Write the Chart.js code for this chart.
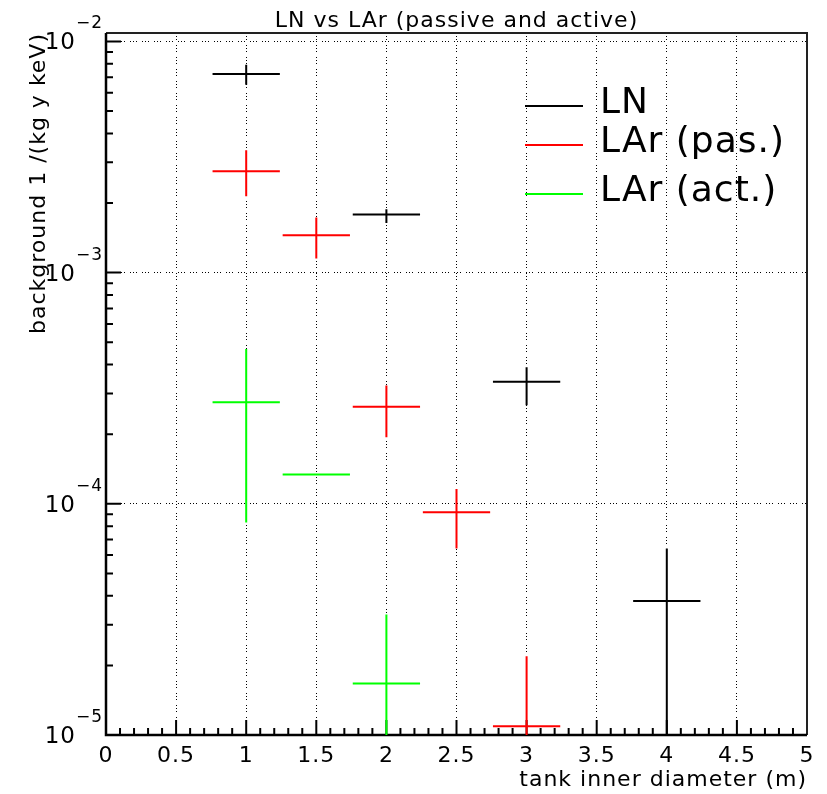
<!DOCTYPE html>
<html>
<head>
<meta charset="utf-8">
<script src="https://cdn.jsdelivr.net/npm/chart.js@4.4.1/dist/chart.umd.min.js"></script>
<style>
    body { margin: 0; background: #fff; }
    canvas { display: block; }
</style>
</head>
<body>
<canvas id="bgChart" width="827" height="794"></canvas>

<script>
// --- datos ---
const titleText = 'LN vs LAr (passive and active)';
const xAxisTitle = 'tank inner diameter (m)';
const yAxisTitle = 'background 1 /(kg y keV)';

const xTickValues = [0, 0.5, 1, 1.5, 2, 2.5, 3, 3.5, 4, 4.5, 5];
const xTickLabels = ['0', '0.5', '1', '1.5', '2', '2.5', '3', '3.5', '4', '4.5', '5'];
const yTickExponents = [-5, -4, -3, -2];

const xHalfWidth = 0.24; // semiancho de la barra en x

// LN
const lnX = [1, 2, 3, 4];
const lnY = [7.22e-3, 1.785e-3, 3.37e-4, 3.8e-5];
const lnLow = [6.5e-3, 1.64e-3, 2.67e-4, 5e-6];
const lnHigh = [7.92e-3, 1.88e-3, 3.9e-4, 6.4e-5];

// LAr pasivo
const pasX = [1, 1.5, 2, 2.5, 3];
const pasY = [2.74e-3, 1.45e-3, 2.63e-4, 9.2e-5, 1.09e-5];
const pasLow = [2.14e-3, 1.15e-3, 1.94e-4, 6.4e-5, 5e-6];
const pasHigh = [3.38e-3, 1.73e-3, 3.25e-4, 1.16e-4, 2.19e-5];

// LAr activo
const actX = [1, 1.5, 2];
const actY = [2.75e-4, 1.34e-4, 1.67e-5];
const actLow = [8.3e-5, 1.34e-4, 5e-6];
const actHigh = [4.67e-4, 1.34e-4, 3.32e-5];

const seriesLabels = ['LN', 'LAr (pas.)', 'LAr (act.)'];
const seriesColors = ['#000000', '#ff0000', '#00ff00'];

// convierte puntos con error en segmentos (cruces)
function errorBars(xs, ys, lo, hi) {
    const pts = [];
    xs.forEach((x, i) => {
        pts.push({x: x - xHalfWidth, y: ys[i]}, {x: x + xHalfWidth, y: ys[i]}, {x: x, y: null});
        pts.push({x: x, y: lo[i]}, {x: x, y: hi[i]}, {x: x, y: null});
    });
    return pts;
}

const FONT = '"DejaVu Sans", sans-serif';

// plugin para dibujar marco, ticks y textos al estilo ROOT
const rootStyle = {
    id: 'rootStyle',
    beforeDatasetsDraw(chart) {
        const {ctx, chartArea: a, scales: {x, y}} = chart;
        ctx.save();

        // marco
        ctx.strokeStyle = '#222';
        ctx.lineWidth = 2;
        ctx.beginPath();
        ctx.moveTo(a.left, a.top); ctx.lineTo(a.right, a.top); ctx.lineTo(a.right, a.bottom);
        ctx.stroke();
        ctx.strokeStyle = '#000';
        ctx.lineWidth = 2.5;
        ctx.beginPath();
        ctx.moveTo(a.left, a.top); ctx.lineTo(a.left, a.bottom); ctx.lineTo(a.right, a.bottom);
        ctx.stroke();

        // ticks del eje x
        ctx.lineWidth = 2;
        ctx.beginPath();
        for (let i = 1; i < 50; i++) {
            const px = x.getPixelForValue(i / 10);
            const len = i % 5 === 0 ? 15 : 7;
            ctx.moveTo(px, a.bottom);
            ctx.lineTo(px, a.bottom - len);
        }
        // ticks del eje y
        for (let e = -5; e <= -2; e++) {
            for (let m = 1; m <= 9; m++) {
                const v = m * Math.pow(10, e);
                if (v > y.max || (e === -5 && m === 1)) continue;
                const py = y.getPixelForValue(v);
                ctx.moveTo(a.left, py);
                ctx.lineTo(a.left + (m === 1 ? 15 : 7), py);
            }
        }
        ctx.stroke();
        ctx.restore();
    },
    afterDraw(chart) {
        const {ctx, chartArea: a, scales: {x, y}} = chart;
        ctx.save();
        ctx.fillStyle = '#000';
        ctx.letterSpacing = '1px';

        // etiquetas x
        ctx.font = '22px ' + FONT;
        ctx.textAlign = 'center';
        ctx.textBaseline = 'alphabetic';
        xTickValues.forEach((v, i) => {
            ctx.fillText(xTickLabels[i], x.getPixelForValue(v), 762);
        });

        // etiquetas y (10^n)
        yTickExponents.forEach(e => {
            const py = y.getPixelForValue(Math.pow(10, e));
            ctx.font = '23px ' + FONT;
            ctx.textAlign = 'right';
            ctx.fillText('10', 76, py + 8);
            ctx.font = '17px ' + FONT;
            ctx.textAlign = 'left';
            ctx.fillText('\u2212' + Math.abs(e), 76, py - 13);
        });

        // titulo
        ctx.font = '22px ' + FONT;
        ctx.textAlign = 'center';
        ctx.fillText(titleText, (a.left + a.right) / 2, 27);

        // titulo eje x
        ctx.textAlign = 'right';
        ctx.fillText(xAxisTitle, a.right, 786);

        // titulo eje y
        ctx.save();
        ctx.translate(45, a.top);
        ctx.rotate(-Math.PI / 2);
        ctx.textAlign = 'right';
        ctx.fillText(yAxisTitle, 0, 0);
        ctx.restore();

        // leyenda
        const legendY = [106, 145, 194];
        ctx.font = '36px ' + FONT;
        ctx.textAlign = 'left';
        chart.data.datasets.forEach((ds, i) => {
            ctx.strokeStyle = ds.borderColor;
            ctx.lineWidth = 2;
            ctx.beginPath();
            ctx.moveTo(525, legendY[i]);
            ctx.lineTo(583, legendY[i]);
            ctx.stroke();
            ctx.fillText(ds.label, 600, legendY[i] + 7);
        });

        ctx.restore();
    }
};

document.addEventListener('DOMContentLoaded', function() {
    const ctx = document.getElementById('bgChart').getContext('2d');

    const gridDash = [1, 2, 1, 2, 1, 5];
    const isDecade = v => Math.abs(Math.log10(v) - Math.round(Math.log10(v))) < 1e-6;

    new Chart(ctx, {
        type: 'line',
        data: {
            datasets: [
                {label: seriesLabels[0], data: errorBars(lnX, lnY, lnLow, lnHigh), borderColor: seriesColors[0]},
                {label: seriesLabels[1], data: errorBars(pasX, pasY, pasLow, pasHigh), borderColor: seriesColors[1]},
                {label: seriesLabels[2], data: errorBars(actX, actY, actLow, actHigh), borderColor: seriesColors[2]}
            ].map(ds => Object.assign(ds, {
                borderWidth: 2,
                pointRadius: 0,
                pointHoverRadius: 0,
                tension: 0,
                fill: false,
                spanGaps: false
            }))
        },
        options: {
            responsive: false,
            animation: false,
            devicePixelRatio: 1,
            layout: { padding: { top: 33, right: 20, left: 0, bottom: 0 } },
            plugins: {
                legend: { display: false },
                title: { display: false },
                tooltip: { enabled: false }
            },
            scales: {
                x: {
                    type: 'linear',
                    min: 0,
                    max: 5,
                    ticks: { display: false, stepSize: 0.5 },
                    grid: { color: '#000', lineWidth: 1, drawTicks: false, borderDash: gridDash },
                    border: { display: false, dash: gridDash },
                    afterFit: s => { s.height = 59; }
                },
                y: {
                    type: 'logarithmic',
                    min: 1e-5,
                    max: 0.01087,
                    ticks: { display: false },
                    grid: {
                        color: c => (c.tick && isDecade(c.tick.value)) ? '#000' : 'rgba(0,0,0,0)',
                        lineWidth: 1,
                        drawTicks: false,
                        borderDash: gridDash
                    },
                    border: { display: false, dash: gridDash },
                    afterFit: s => { s.width = 106; }
                }
            }
        },
        plugins: [rootStyle]
    });
});
</script>
</body>
</html>
